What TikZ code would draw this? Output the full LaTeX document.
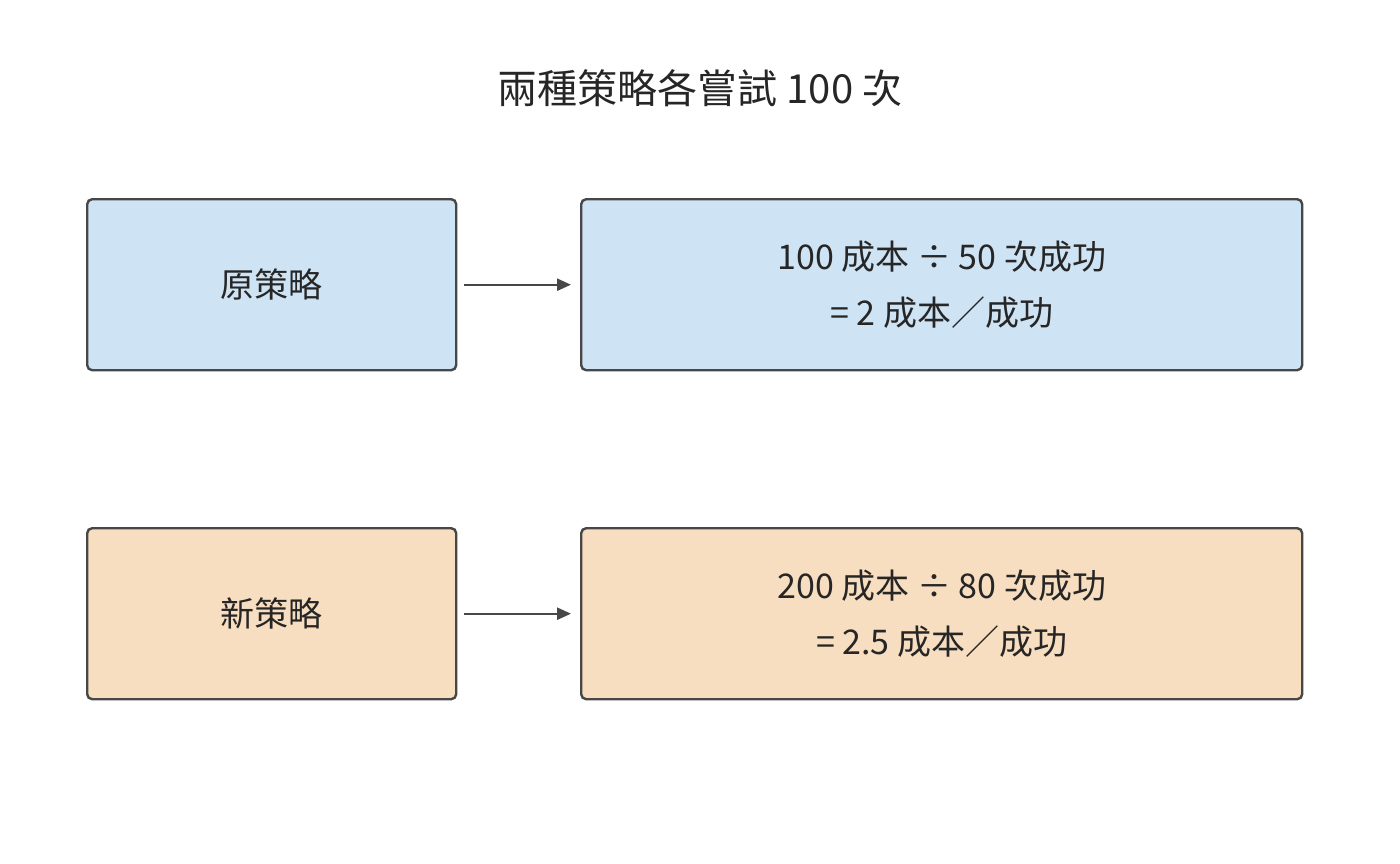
\documentclass[tikz,border=0pt]{standalone}
\usepackage{fontspec}
\setmainfont{Noto Sans CJK TC}
\usetikzlibrary{arrows.meta}
\begin{document}
\begin{tikzpicture}[x=1pt,y=-1pt,
  box/.style={draw=black!72,line width=2.4pt,rounded corners=5pt,inner sep=0pt,anchor=north west},
  blue/.style={fill={rgb,255:red,206;green,227;blue,243}},
  orange/.style={fill={rgb,255:red,248;green,222;blue,192}},
  txt/.style={font=\fontsize{34}{56}\selectfont,text=black!85,align=center},
  arr/.style={-{Triangle[length=14pt,width=12pt]},line width=2.4pt,draw=black!72}]
\useasboundingbox (0,0) rectangle (1400,864);
\node[font=\fontsize{40}{48}\selectfont,text=black!85] (title) at (700,88) {兩種策略各嘗試 100 次};
\node[box,blue,minimum width=369pt,minimum height=171pt] (a) at (86,198) {};
\node[box,blue,minimum width=721pt,minimum height=171pt] (b) at (580,198) {};
\node[box,orange,minimum width=369pt,minimum height=171pt] (c) at (86,527) {};
\node[box,orange,minimum width=721pt,minimum height=171pt] (d) at (580,527) {};
\node[txt] (at) at (a.center) {原策略};
\node[txt] (bt) at (b.center) {100 成本 ÷ 50 次成功\\= 2 成本／成功};
\node[txt] (ct) at (c.center) {新策略};
\node[txt] (dt) at (d.center) {200 成本 ÷ 80 次成功\\= 2.5 成本／成功};
\draw[arr] ([xshift=7pt]a.east) -- ([xshift=-9pt]b.west);
\draw[arr] ([xshift=7pt]c.east) -- ([xshift=-9pt]d.west);
\end{tikzpicture}
\end{document}
